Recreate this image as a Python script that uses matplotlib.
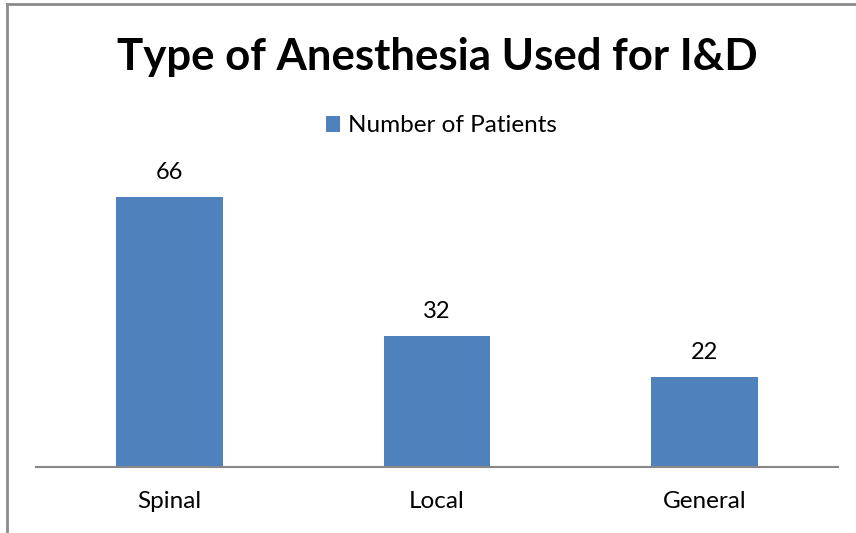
import matplotlib
matplotlib.use("Agg")
import matplotlib.pyplot as plt
from matplotlib.lines import Line2D

# Datos
categorias = ["Spinal", "Local", "General"]
pacientes = [66, 32, 22]
serie = "Number of Patients"

plt.rcParams["font.family"] = ["Lato", "DejaVu Sans"]

fig = plt.figure(figsize=(8.56, 5.33), dpi=100)
ax = fig.add_axes([36 / 856, 1 - 467 / 533, (838 - 36) / 856, (467 - 140) / 533])

barras = ax.bar(range(len(categorias)), pacientes, width=0.4, color="#4F81BD", label=serie)
for b, v in zip(barras, pacientes):
    ax.annotate(str(v), (b.get_x() + b.get_width() / 2, v), xytext=(0, 10),
                textcoords="offset points", ha="center", va="bottom", fontsize=17)

ax.set_xlim(-0.5, len(categorias) - 0.5)
ax.set_ylim(0, 80)
ax.set_xticks(range(len(categorias)))
ax.set_xticklabels(categorias, fontsize=17.5)
ax.tick_params(axis="x", length=0, pad=17)
ax.set_yticks([])
for s in ["top", "right", "left"]:
    ax.spines[s].set_visible(False)
ax.spines["bottom"].set_color("#878787")
ax.spines["bottom"].set_linewidth(1.5)

fig.text(437 / 856, 1 - 57 / 533, "Type of Anesthesia Used for I&D",
         ha="center", va="center", fontsize=31.5, fontweight="bold")

fig.legend(handles=[barras], labels=[serie], loc="center",
           bbox_to_anchor=(441 / 856, 1 - 126 / 533), frameon=False,
           fontsize=17.5, handlelength=0.6, handleheight=0.6, handletextpad=0.3)

# Marco del gráfico
gris = "#8C8C8C"
fig.add_artist(Line2D([6.5 / 856, 6.5 / 856], [0, 1 - 4 / 533], color=gris, lw=2, transform=fig.transFigure))
fig.add_artist(Line2D([6.5 / 856, 1], [1 - 4 / 533, 1 - 4 / 533], color=gris, lw=2, transform=fig.transFigure))

fig.savefig("out.png", dpi=100)
